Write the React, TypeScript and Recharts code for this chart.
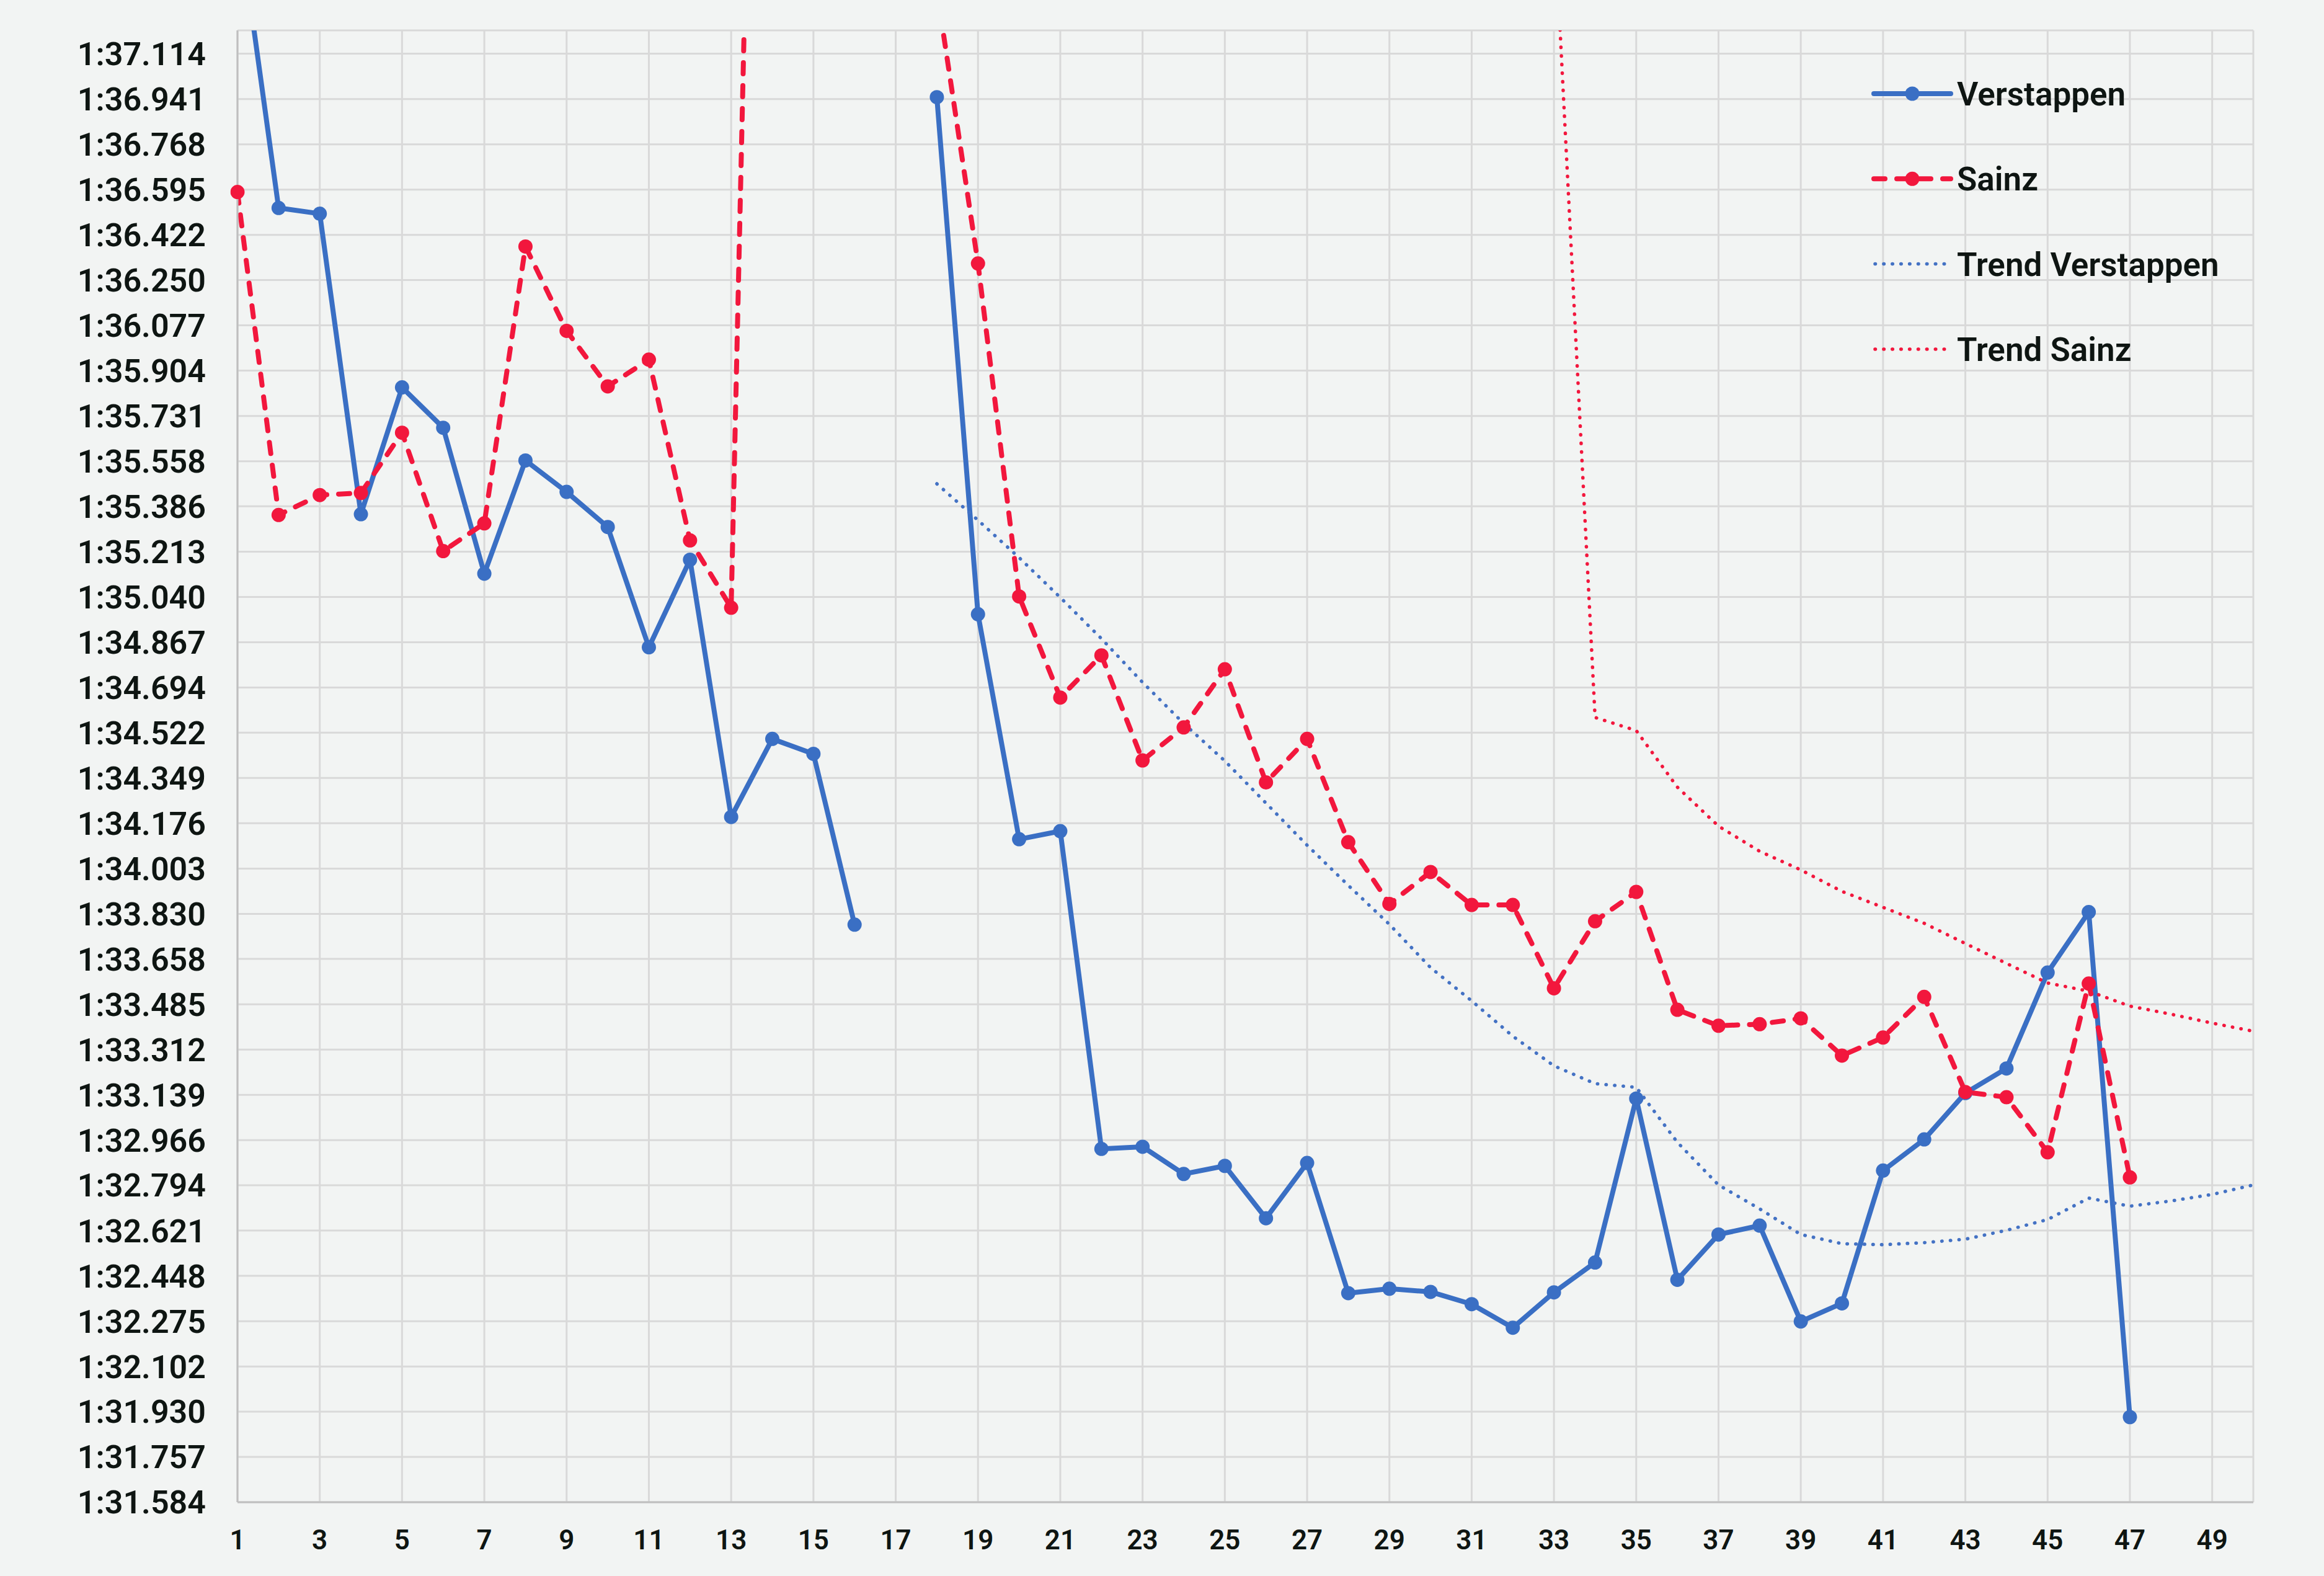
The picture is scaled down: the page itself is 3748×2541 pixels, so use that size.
import React from 'react';
import { LineChart, Line, XAxis, YAxis, CartesianGrid, Legend } from 'recharts';

const laps: number[] = Array.from({ length: 50 }, (_, i) => i + 1);

const verstappen: (number | null)[] = [
  97.66, 96.525, 96.503, 95.356, 95.84, 95.686, 95.129, 95.561, 95.441, 95.307,
  94.848, 95.182, 94.2, 94.498, 94.441, 93.789, null, 96.948, 94.974, 94.115,
  94.146, 92.933, 92.941, 92.837, 92.868, 92.668, 92.879, 92.382, 92.399, 92.387,
  92.34, 92.25, 92.385, 92.499, 93.125, 92.433, 92.606, 92.64, 92.274, 92.343,
  92.85, 92.969, 93.146, 93.24, 93.606, 93.837, 91.909, null, null, null,
];

const sainz: (number | null)[] = [
  96.586, 95.353, 95.429, 95.437, 95.667, 95.215, 95.321, 96.378, 96.056, 95.844,
  95.946, 95.256, 94.999, 102.0, null, null, null, 97.357, 96.313, 95.042,
  94.656, 94.817, 94.416, 94.542, 94.764, 94.332, 94.498, 94.104, 93.868, 93.99,
  93.864, 93.864, 93.546, 93.802, 93.914, 93.464, 93.403, 93.409, 93.431, 93.289,
  93.358, 93.513, 93.15, 93.13, 92.92, 93.564, 92.824, null, null, null,
];

const trendVerstappen: (number | null)[] = [
  null, null, null, null, null, null, null, null, null, null,
  null, null, null, null, null, null, null, 95.472, 95.333, 95.19,
  95.038, 94.881, 94.714, 94.557, 94.414, 94.253, 94.092, 93.939, 93.79, 93.625,
  93.498, 93.363, 93.25, 93.182, 93.168, 92.958, 92.795, 92.704, 92.606, 92.571,
  92.567, 92.575, 92.588, 92.622, 92.663, 92.745, 92.714, 92.734, 92.759, 92.795,
];

const trendSainz: (number | null)[] = [
  null, null, null, null, null, null, null, null, null, null,
  null, null, null, null, null, null, null, null, null, null,
  null, null, null, null, null, null, null, null, null, null,
  null, null, 97.665, 94.58, 94.53, 94.314, 94.165, 94.069, 93.998, 93.916,
  93.855, 93.794, 93.717, 93.641, 93.566, 93.535, 93.478, 93.447, 93.413, 93.382,
];

const yTickLabels: string[] = [
  '1:31.584', '1:31.757', '1:31.930', '1:32.102', '1:32.275', '1:32.448', '1:32.621',
  '1:32.794', '1:32.966', '1:33.139', '1:33.312', '1:33.485', '1:33.658', '1:33.830',
  '1:34.003', '1:34.176', '1:34.349', '1:34.522', '1:34.694', '1:34.867', '1:35.040',
  '1:35.213', '1:35.386', '1:35.558', '1:35.731', '1:35.904', '1:36.077', '1:36.250',
  '1:36.422', '1:36.595', '1:36.768', '1:36.941', '1:37.114',
];

const xTicks: number[] = [1, 3, 5, 7, 9, 11, 13, 15, 17, 19, 21, 23, 25, 27, 29, 31, 33, 35, 37, 39, 41, 43, 45, 47, 49];

const toSeconds = (label: string) => {
  const [m, s] = label.split(':');
  return Number(m) * 60 + Number(s);
};
const yTicks = yTickLabels.map(toSeconds);
const fmt = (v: number) => {
  const m = Math.floor(v / 60);
  const s = v - m * 60;
  return `${m}:${s.toFixed(3).padStart(6, '0')}`;
};

const BLUE = '#3A6FC4';
const RED = '#F2173D';
const TBLUE = '#4472C4';
const TEXT = '#0E1512';
const FONT = 'Roboto, "Noto Sans", sans-serif';

const data = laps.map((lap, i) => ({
  lap,
  ver: verstappen[i],
  sai: sainz[i],
  tver: trendVerstappen[i],
  tsai: trendSainz[i],
}));

const series = [
  { key: 'ver', name: 'Verstappen', color: BLUE, width: 8, dash: undefined as string | undefined, dot: true },
  { key: 'sai', name: 'Sainz', color: RED, width: 8, dash: '18 19', dot: true },
  { key: 'tver', name: 'Trend Verstappen', color: TBLUE, width: 5.5, dash: '0.5 13.4', dot: false },
  { key: 'tsai', name: 'Trend Sainz', color: RED, width: 5.5, dash: '0.5 13.4', dot: false },
];

const LegendContent = () => (
  <svg width={640} height={540} style={{ overflow: 'visible', display: 'block' }}>
    {series.map((s, i) => {
      const y = 61 + i * 137.3;
      return (
        <g key={s.key}>
          <line
            x1={s.dot ? 12 : 14}
            x2={s.dot ? 136 : 132}
            y1={y}
            y2={y}
            stroke={s.color}
            strokeWidth={s.width}
            strokeDasharray={s.dash}
            strokeLinecap="round"
          />
          {s.dot && <circle cx={74} cy={y} r={11.5} fill={s.color} />}
          <text
            x={146}
            y={y + 19}
            fontFamily={FONT}
            fontSize={53}
            fontWeight={600}
            fill={TEXT}
          >
            {s.name}
          </text>
        </g>
      );
    })}
  </svg>
);

export default function App() {
  return (
    <div
      style={{
        position: 'absolute',
        left: 0,
        top: 0,
        width: 3748,
        height: 2541,
        background: '#F2F4F3',
        overflow: 'hidden',
      }}
    >
      <LineChart
        width={3748}
        height={2541}
        data={data}
        margin={{ top: 49, right: 114, left: 0, bottom: 0 }}
        style={{ fontFamily: FONT }}
      >
        <CartesianGrid stroke="#D9D9D9" strokeWidth={3} />
        <XAxis
          dataKey="lap"
          type="number"
          domain={[1, 50]}
          ticks={xTicks}
          interval={0}
          height={119}
          tickSize={0}
          tickMargin={45}
          axisLine={{ stroke: '#BFBFBF', strokeWidth: 3 }}
          tickLine={false}
          tick={{ fontSize: 44, fill: TEXT, fontFamily: FONT, fontWeight: 600 }}
          allowDataOverflow
        />
        <YAxis
          type="number"
          domain={[91.584, 97.203]}
          ticks={yTicks}
          interval={0}
          width={383}
          tickSize={0}
          tickMargin={51}
          tickFormatter={fmt}
          axisLine={{ stroke: '#BFBFBF', strokeWidth: 3 }}
          tickLine={false}
          tick={{ fontSize: 52, fill: TEXT, fontFamily: FONT, fontWeight: 600 }}
          allowDataOverflow
        />
        <Legend
          layout="horizontal"
          verticalAlign="middle"
          align="center"
          content={<LegendContent />}
          wrapperStyle={{ position: 'absolute', left: 3010, top: 90, width: 640, height: 540 }}
        />
        {series.map((s) => (
          <Line
            key={s.key}
            dataKey={s.key}
            name={s.name}
            type="linear"
            stroke={s.color}
            strokeWidth={s.width}
            strokeDasharray={s.dash}
            strokeLinecap="round"
            strokeLinejoin="round"
            dot={s.dot ? { r: 11.5, fill: s.color, stroke: 'none', strokeWidth: 0, clipDot: false } : false}
            activeDot={false}
            isAnimationActive={false}
            connectNulls={false}
          />
        ))}
      </LineChart>
    </div>
  );
}
